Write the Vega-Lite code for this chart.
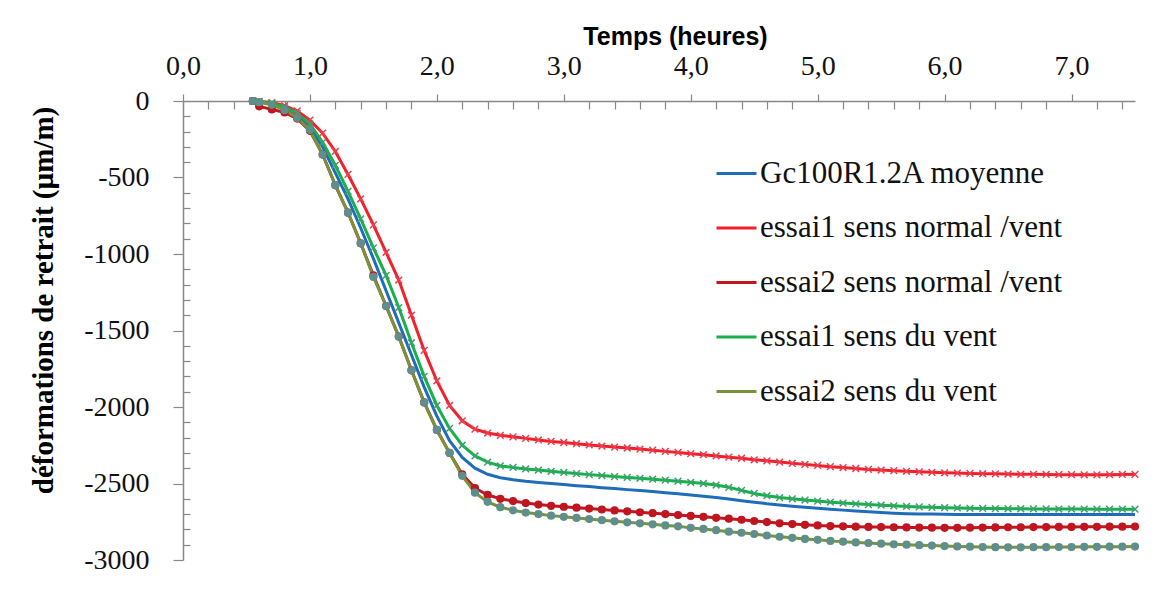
{
  "$schema": "https://vega.github.io/schema/vega-lite/v6.json",
  "width": 952,
  "height": 459,
  "autosize": "none",
  "padding": {"left": 183, "top": 101, "right": 37, "bottom": 30},
  "background": "white",
  "config": {"view": {"stroke": null}},
  "data": {"values": [
    {"t":0.55,"m":0,"r1":0,"r2":0,"g1":0,"g2":0},
    {"t":0.6,"m":-5,"r1":-3,"r2":-35,"g1":-5,"g2":-8},
    {"t":0.7,"m":-20,"r1":-10,"r2":-55,"g1":-15,"g2":-25},
    {"t":0.8,"m":-45,"r1":-30,"r2":-75,"g1":-40,"g2":-60},
    {"t":0.9,"m":-90,"r1":-65,"r2":-115,"g1":-80,"g2":-110},
    {"t":1.0,"m":-170,"r1":-125,"r2":-195,"g1":-150,"g2":-190},
    {"t":1.1,"m":-300,"r1":-210,"r2":-350,"g1":-270,"g2":-350},
    {"t":1.2,"m":-470,"r1":-330,"r2":-550,"g1":-420,"g2":-550},
    {"t":1.3,"m":-640,"r1":-480,"r2":-730,"g1":-590,"g2":-730},
    {"t":1.4,"m":-830,"r1":-640,"r2":-930,"g1":-770,"g2":-930},
    {"t":1.5,"m":-1030,"r1":-810,"r2":-1140,"g1":-960,"g2":-1150},
    {"t":1.6,"m":-1240,"r1":-990,"r2":-1340,"g1":-1140,"g2":-1340},
    {"t":1.7,"m":-1450,"r1":-1170,"r2":-1540,"g1":-1350,"g2":-1540},
    {"t":1.8,"m":-1660,"r1":-1400,"r2":-1760,"g1":-1580,"g2":-1760},
    {"t":1.9,"m":-1870,"r1":-1630,"r2":-1970,"g1":-1800,"g2":-1970},
    {"t":2.0,"m":-2060,"r1":-1830,"r2":-2150,"g1":-1990,"g2":-2150},
    {"t":2.1,"m":-2220,"r1":-1990,"r2":-2300,"g1":-2140,"g2":-2300},
    {"t":2.2,"m":-2330,"r1":-2090,"r2":-2440,"g1":-2250,"g2":-2450},
    {"t":2.3,"m":-2400,"r1":-2145,"r2":-2530,"g1":-2320,"g2":-2560},
    {"t":2.4,"m":-2440,"r1":-2170,"r2":-2575,"g1":-2360,"g2":-2620},
    {"t":2.5,"m":-2462,"r1":-2185,"r2":-2600,"g1":-2385,"g2":-2655},
    {"t":2.6,"m":-2475,"r1":-2195,"r2":-2615,"g1":-2395,"g2":-2675},
    {"t":2.7,"m":-2485,"r1":-2205,"r2":-2628,"g1":-2405,"g2":-2690},
    {"t":2.8,"m":-2493,"r1":-2215,"r2":-2638,"g1":-2412,"g2":-2700},
    {"t":2.9,"m":-2500,"r1":-2225,"r2":-2646,"g1":-2420,"g2":-2710},
    {"t":3.0,"m":-2507,"r1":-2232,"r2":-2652,"g1":-2428,"g2":-2718},
    {"t":3.1,"m":-2514,"r1":-2240,"r2":-2658,"g1":-2435,"g2":-2725},
    {"t":3.2,"m":-2520,"r1":-2248,"r2":-2664,"g1":-2442,"g2":-2732},
    {"t":3.3,"m":-2527,"r1":-2255,"r2":-2670,"g1":-2448,"g2":-2740},
    {"t":3.4,"m":-2533,"r1":-2262,"r2":-2676,"g1":-2455,"g2":-2747},
    {"t":3.5,"m":-2540,"r1":-2268,"r2":-2682,"g1":-2460,"g2":-2754},
    {"t":3.6,"m":-2546,"r1":-2275,"r2":-2688,"g1":-2466,"g2":-2760},
    {"t":3.7,"m":-2553,"r1":-2282,"r2":-2694,"g1":-2472,"g2":-2767},
    {"t":3.8,"m":-2560,"r1":-2290,"r2":-2700,"g1":-2478,"g2":-2774},
    {"t":3.9,"m":-2567,"r1":-2297,"r2":-2706,"g1":-2485,"g2":-2780},
    {"t":4.0,"m":-2575,"r1":-2305,"r2":-2712,"g1":-2492,"g2":-2790},
    {"t":4.1,"m":-2583,"r1":-2312,"r2":-2718,"g1":-2500,"g2":-2797},
    {"t":4.2,"m":-2592,"r1":-2320,"r2":-2724,"g1":-2510,"g2":-2805},
    {"t":4.3,"m":-2602,"r1":-2328,"r2":-2730,"g1":-2525,"g2":-2815},
    {"t":4.4,"m":-2612,"r1":-2335,"r2":-2737,"g1":-2545,"g2":-2822},
    {"t":4.5,"m":-2622,"r1":-2345,"r2":-2745,"g1":-2565,"g2":-2830},
    {"t":4.6,"m":-2632,"r1":-2352,"r2":-2752,"g1":-2580,"g2":-2840},
    {"t":4.7,"m":-2640,"r1":-2360,"r2":-2760,"g1":-2592,"g2":-2848},
    {"t":4.8,"m":-2648,"r1":-2368,"r2":-2765,"g1":-2600,"g2":-2855},
    {"t":4.9,"m":-2655,"r1":-2375,"r2":-2770,"g1":-2608,"g2":-2862},
    {"t":5.0,"m":-2662,"r1":-2382,"r2":-2774,"g1":-2615,"g2":-2868},
    {"t":5.1,"m":-2668,"r1":-2390,"r2":-2778,"g1":-2622,"g2":-2875},
    {"t":5.2,"m":-2674,"r1":-2396,"r2":-2780,"g1":-2628,"g2":-2880},
    {"t":5.3,"m":-2680,"r1":-2402,"r2":-2782,"g1":-2633,"g2":-2885},
    {"t":5.4,"m":-2685,"r1":-2408,"r2":-2784,"g1":-2638,"g2":-2889},
    {"t":5.5,"m":-2690,"r1":-2412,"r2":-2785,"g1":-2642,"g2":-2893},
    {"t":5.6,"m":-2694,"r1":-2416,"r2":-2786,"g1":-2646,"g2":-2897},
    {"t":5.7,"m":-2697,"r1":-2420,"r2":-2787,"g1":-2650,"g2":-2900},
    {"t":5.8,"m":-2699,"r1":-2424,"r2":-2788,"g1":-2653,"g2":-2903},
    {"t":5.9,"m":-2700,"r1":-2427,"r2":-2789,"g1":-2656,"g2":-2906},
    {"t":6.0,"m":-2701,"r1":-2430,"r2":-2790,"g1":-2658,"g2":-2909},
    {"t":6.1,"m":-2702,"r1":-2432,"r2":-2790,"g1":-2660,"g2":-2911},
    {"t":6.2,"m":-2702,"r1":-2434,"r2":-2789,"g1":-2662,"g2":-2913},
    {"t":6.3,"m":-2703,"r1":-2436,"r2":-2788,"g1":-2663,"g2":-2915},
    {"t":6.4,"m":-2703,"r1":-2437,"r2":-2787,"g1":-2664,"g2":-2916},
    {"t":6.5,"m":-2703,"r1":-2438,"r2":-2786,"g1":-2665,"g2":-2917},
    {"t":6.6,"m":-2703,"r1":-2440,"r2":-2786,"g1":-2665,"g2":-2917},
    {"t":6.7,"m":-2703,"r1":-2440,"r2":-2785,"g1":-2666,"g2":-2916},
    {"t":6.8,"m":-2703,"r1":-2441,"r2":-2785,"g1":-2666,"g2":-2916},
    {"t":6.9,"m":-2703,"r1":-2442,"r2":-2784,"g1":-2667,"g2":-2915},
    {"t":7.0,"m":-2703,"r1":-2442,"r2":-2784,"g1":-2667,"g2":-2915},
    {"t":7.1,"m":-2703,"r1":-2443,"r2":-2783,"g1":-2667,"g2":-2914},
    {"t":7.2,"m":-2703,"r1":-2443,"r2":-2783,"g1":-2668,"g2":-2914},
    {"t":7.3,"m":-2703,"r1":-2442,"r2":-2782,"g1":-2668,"g2":-2913},
    {"t":7.4,"m":-2703,"r1":-2441,"r2":-2782,"g1":-2668,"g2":-2913},
    {"t":7.5,"m":-2703,"r1":-2440,"r2":-2781,"g1":-2668,"g2":-2912}
  ]},
  "transform": [{"fold": ["m", "r1", "r2", "g1", "g2"], "as": ["s", "v"]}],
  "encoding": {
    "x": {
      "field": "t", "type": "quantitative",
      "scale": {"domain": [0, 7.5], "nice": false},
      "axis": {
        "orient": "top",
        "title": "Temps (heures)",
        "titleFont": "Liberation Sans", "titleFontSize": 25, "titleFontWeight": "bold", "titleColor": "#000000",
        "titleX": 492, "titleY": -57, "titleBaseline": "alphabetic", "titleAlign": "center",
        "values": [0,0.2,0.4,0.6,0.8,1,1.2,1.4,1.6,1.8,2,2.2,2.4,2.6,2.8,3,3.2,3.4,3.6,3.8,4,4.2,4.4,4.6,4.8,5,5.2,5.4,5.6,5.8,6,6.2,6.4,6.6,6.8,7,7.2,7.4],
        "labelExpr": "abs(datum.value - round(datum.value)) < 0.001 ? replace(format(datum.value, '.1f'), '.', ',') : ''",
        "labelFont": "Liberation Serif", "labelColor": "#111111",
        "labelFontSize": {"condition": {"test": "abs(datum.value - round(datum.value)) < 0.001", "value": 28}, "value": 1},
        "labelPadding": 14,
        "tickSize": {"condition": {"test": "abs(datum.value - round(datum.value)) < 0.001", "value": 7}, "value": -8},
        "tickColor": "#888888", "domainColor": "#888888", "domainWidth": 1.5, "tickWidth": 1.2,
        "grid": false, "labelFlush": false, "labelOverlap": false
      }
    },
    "y": {
      "field": "v", "type": "quantitative",
      "scale": {"domain": [-3000, 0], "nice": false},
      "axis": {
        "title": "déformations  de retrait  (µm/m)",
        "titleFont": "Liberation Serif", "titleFontSize": 29, "titleFontWeight": "bold", "titleColor": "#000000",
        "titleX": -131, "titleY": 199, "titleBaseline": "alphabetic", "titleAlign": "center", "titleAngle": 270,
        "values": [-3000,-2900,-2800,-2700,-2600,-2500,-2400,-2300,-2200,-2100,-2000,-1900,-1800,-1700,-1600,-1500,-1400,-1300,-1200,-1100,-1000,-900,-800,-700,-600,-500,-400,-300,-200,-100,0],
        "labelExpr": "abs(datum.value) % 500 < 0.5 ? datum.value + '' : ''",
        "labelFont": "Liberation Serif", "labelColor": "#111111",
        "labelFontSize": {"condition": {"test": "abs(datum.value) % 500 < 0.5", "value": 28}, "value": 1},
        "labelPadding": 24,
        "tickSize": {"condition": {"test": "abs(datum.value) % 500 < 0.5", "value": 10}, "value": -7},
        "tickColor": "#888888", "domainColor": "#888888", "domainWidth": 1.5, "tickWidth": 1.2,
        "grid": false, "labelFlush": false, "labelOverlap": false
      }
    }
  },
  "layer": [
    {
      "mark": {"type": "line", "strokeWidth": 3},
      "encoding": {
        "color": {
          "field": "s", "type": "nominal",
          "scale": {"domain": ["m", "r1", "r2", "g1", "g2"], "range": ["#1F6DB8", "#F2202B", "#C0161F", "#18B04A", "#77933C"]},
          "legend": {
            "title": null,
            "orient": "none", "legendX": 532, "legendY": 51,
            "labelExpr": "datum.value === 'm' ? 'Gc100R1.2A moyenne' : datum.value === 'r1' ? 'essai1 sens normal /vent' : datum.value === 'r2' ? 'essai2 sens normal /vent' : datum.value === 'g1' ? 'essai1 sens du vent' : 'essai2 sens du vent'",
            "labelFont": "Liberation Serif", "labelFontSize": 31, "labelColor": "#111111",
            "symbolType": "stroke", "symbolSize": 1600, "symbolStrokeWidth": 3,
            "rowPadding": 17.5, "labelOffset": 2, "labelLimit": 500
          }
        }
      }
    },
    {
      "transform": [{"filter": "datum.s !== 'm'"}],
      "mark": {"type": "point", "size": 45, "strokeWidth": 1.5, "opacity": 1},
      "encoding": {
        "shape": {"field": "s", "type": "nominal", "scale": {"domain": ["r1", "r2", "g1", "g2"], "range": ["M-1,-1L1,1M-1,1L1,-1", "circle", "M-1,-1L1,1M-1,1L1,-1", "circle"]}, "legend": null},
        "fill": {"field": "s", "type": "nominal", "scale": {"domain": ["r1", "r2", "g1", "g2"], "range": ["#F2202B", "#C0161F", "#18B04A", "#5F8F8C"]}, "legend": null},
        "stroke": {"field": "s", "type": "nominal", "scale": {"domain": ["r1", "r2", "g1", "g2"], "range": ["#E84050", "#C0161F", "#3FA070", "#5F8F8C"]}, "legend": null}
      }
    }
  ]
}
